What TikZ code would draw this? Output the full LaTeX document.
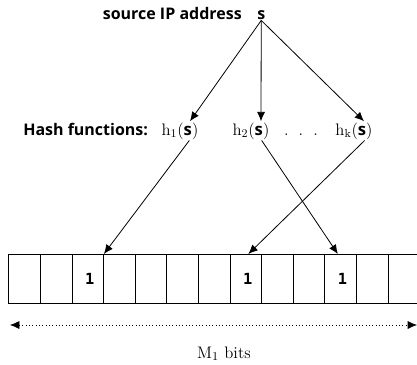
\documentclass[tikz,border=0pt]{standalone}
\usepackage{fontspec}
\newfontfamily\lblfont{Open Sans}[UprightFont=*-Bold]
\newfontfamily\bitfont{DejaVu Sans Mono}[UprightFont=* Bold]
\usetikzlibrary{arrows.meta}

\tikzset{
  cell/.style={draw, line width=0.6pt, minimum width=23.7pt, minimum height=37pt, inner sep=0pt, anchor=north west},
  bit/.style={font=\bitfont\fontsize{11.5}{13}\selectfont, inner sep=0pt},
  lbl/.style={font=\lblfont\fontsize{12}{14}\selectfont, inner sep=0.75pt},
  hfun/.style={font=\fontsize{12.5}{14}\selectfont, inner sep=0.75pt},
  pointer/.style={-{Latex[length=7pt,width=6pt]}, line width=0.6pt},
}

\newcommand{\hs}[1]{$\mathrm{h}_{\mathrm{#1}}$({\lblfont s})}

\begin{document}
\begin{tikzpicture}[x=0.75pt,y=0.75pt,yscale=-1,xscale=1]
\useasboundingbox (0,0) rectangle (417,364);

% key
\node[lbl, anchor=base east] (srclbl) at (243,19) {source IP address};
\node[lbl, anchor=base west] (s) at (256,19) {s};

% hash functions
\node[lbl, anchor=base west] (hashlbl) at (22,135) {Hash functions:};
\node[hfun, anchor=base] (h1) at (180,135) {\hs{1}};
\node[hfun, anchor=base] (h2) at (251,135) {\hs{2}};
\node[hfun, anchor=base] (dots) at (301,135) {.\hspace{0.6em}.\hspace{0.6em}.};
\node[hfun, anchor=base] (hk) at (354,135) {\hs{k}};

% bit array
\foreach \i in {1,...,13}
  \node[cell] (c\i) at ({8.3+(\i-1)*31.6},254) {};
\node[bit] (b1) at ([xshift=1.5pt]c3.center) {1};
\node[bit] (b2) at ([xshift=1.5pt]c8.center) {1};
\node[bit] (b3) at ([xshift=1.5pt]c11.center) {1};

% key to hash functions
\draw[pointer] (s.south) -- ([xshift=7.5pt]h1.north);
\draw[pointer] (s.south) -- ([xshift=7.5pt]h2.north);
\draw[pointer] (s.south) -- ([xshift=7.5pt]hk.north);

% hash functions to bits
\draw[pointer] ([xshift=7pt]h1.south) -- (c3.north east);
\draw[pointer] ([xshift=8pt]h2.south) -- ([xshift=-2pt]c11.north);
\draw[pointer] ([xshift=8pt]hk.south) -- ([xshift=2pt]c8.north);

% array length
\coordinate (wl) at (10,325);
\coordinate (wr) at (417,325);
\draw[dotted, line width=0.5pt, {Latex[length=7pt,width=6pt]}-{Latex[length=7pt,width=6pt]}] (wl) -- (wr);
\node[hfun, anchor=base] (mlbl) at (224,358) {$\mathrm{M}_1$ bits};
\end{tikzpicture}
\end{document}
